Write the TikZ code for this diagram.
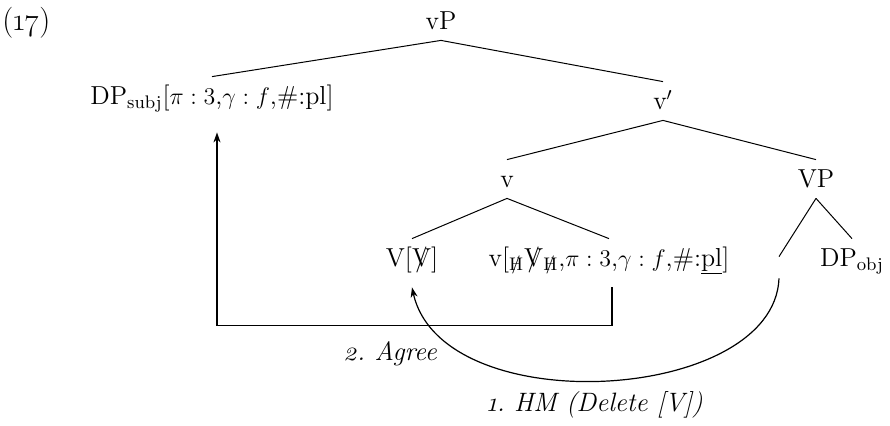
\documentclass[tikz,border=0pt,12pt]{standalone}
\usepackage{fontspec}
\setmainfont{Latin Modern Roman}
\newfontfamily\osf{Latin Modern Roman}[Numbers=OldStyle]
\usetikzlibrary{calc,arrows.meta}
\newcommand{\stk}[1]{\ooalign{#1\cr\hidewidth/\hidewidth\cr}}
\newcommand{\stkh}{\textsubscript{\ooalign{H\cr\hidewidth\raisebox{0.05ex}{/}\hidewidth\cr}}}
\tikzset{
  tn/.style={inner sep=0pt, anchor=base, text height=13.5pt, text depth=5.5pt},
  en/.style={inner sep=0pt, anchor=base, text height=4.5pt, text depth=6pt},
  edge/.style={line width=0.5pt},
  boxline/.style={line width=0.8pt, -{Stealth[length=5pt,width=3.5pt]}},
  hmline/.style={line width=0.6pt, -{Stealth[length=5pt,width=3.5pt]}},
  lab/.style={inner sep=0pt, font=\fontsize{13.3}{16}\selectfont\osf\itshape}
}
\begin{document}
\fontsize{13}{15.6}\selectfont
\begin{tikzpicture}[x=0.5pt,y=-0.5pt]
\useasboundingbox (0,0) rectangle (890,425);
\node[inner sep=0pt, anchor=base west, font=\fontsize{15.5}{18}\selectfont\osf] (ex) at (2,30) {(17)};
\node[tn] (vP) at (441,29) {vP};
\node[tn] (DPs) at (212,104) {DP\textsubscript{subj}[$\pi : 3$,$\gamma : f$,\#:pl]};
\node[tn] (vb) at (663,109) {v$'$};
\node[tn] (v) at (507,187) {v};
\node[tn] (VP) at (816,187) {VP};
\node[tn] (Vv) at (412,266) {V[\stk{V}]};
\node[tn] (vs) at (609,266) {v[\stkh\stk{V}\stkh,$\pi : 3$,$\gamma : f$,\#:\underline{pl}]};
\node[en] (e) at (779,266) {};
\node[tn] (DPo) at (852,266) {DP\textsubscript{obj}};
\draw[edge] (vP.south) -- (DPs.north);
\draw[edge] (vP.south) -- (vb.north);
\draw[edge] (vb.south) -- (v.north);
\draw[edge] (vb.south) -- (VP.north);
\draw[edge] (v.south) -- (Vv.north);
\draw[edge] (v.south) -- (vs.north);
\draw[edge] (VP.south) -- (e.north);
\draw[edge] (VP.south) -- (DPo.north);
\draw[boxline] ($(vs.south)+(3,10)$) -- ++(0,38) -| ($(DPs.south)+(5,17)$);
\draw[hmline] (e.south) .. controls +(-5,125) and +(30,135) .. ($(Vv.south)+(0,10)$);
\node[lab] (ag) at (390,354) {2.\ Agree};
\node[lab] (hm) at (595,405) {1.\ HM (Delete [V])};
\end{tikzpicture}
\end{document}
